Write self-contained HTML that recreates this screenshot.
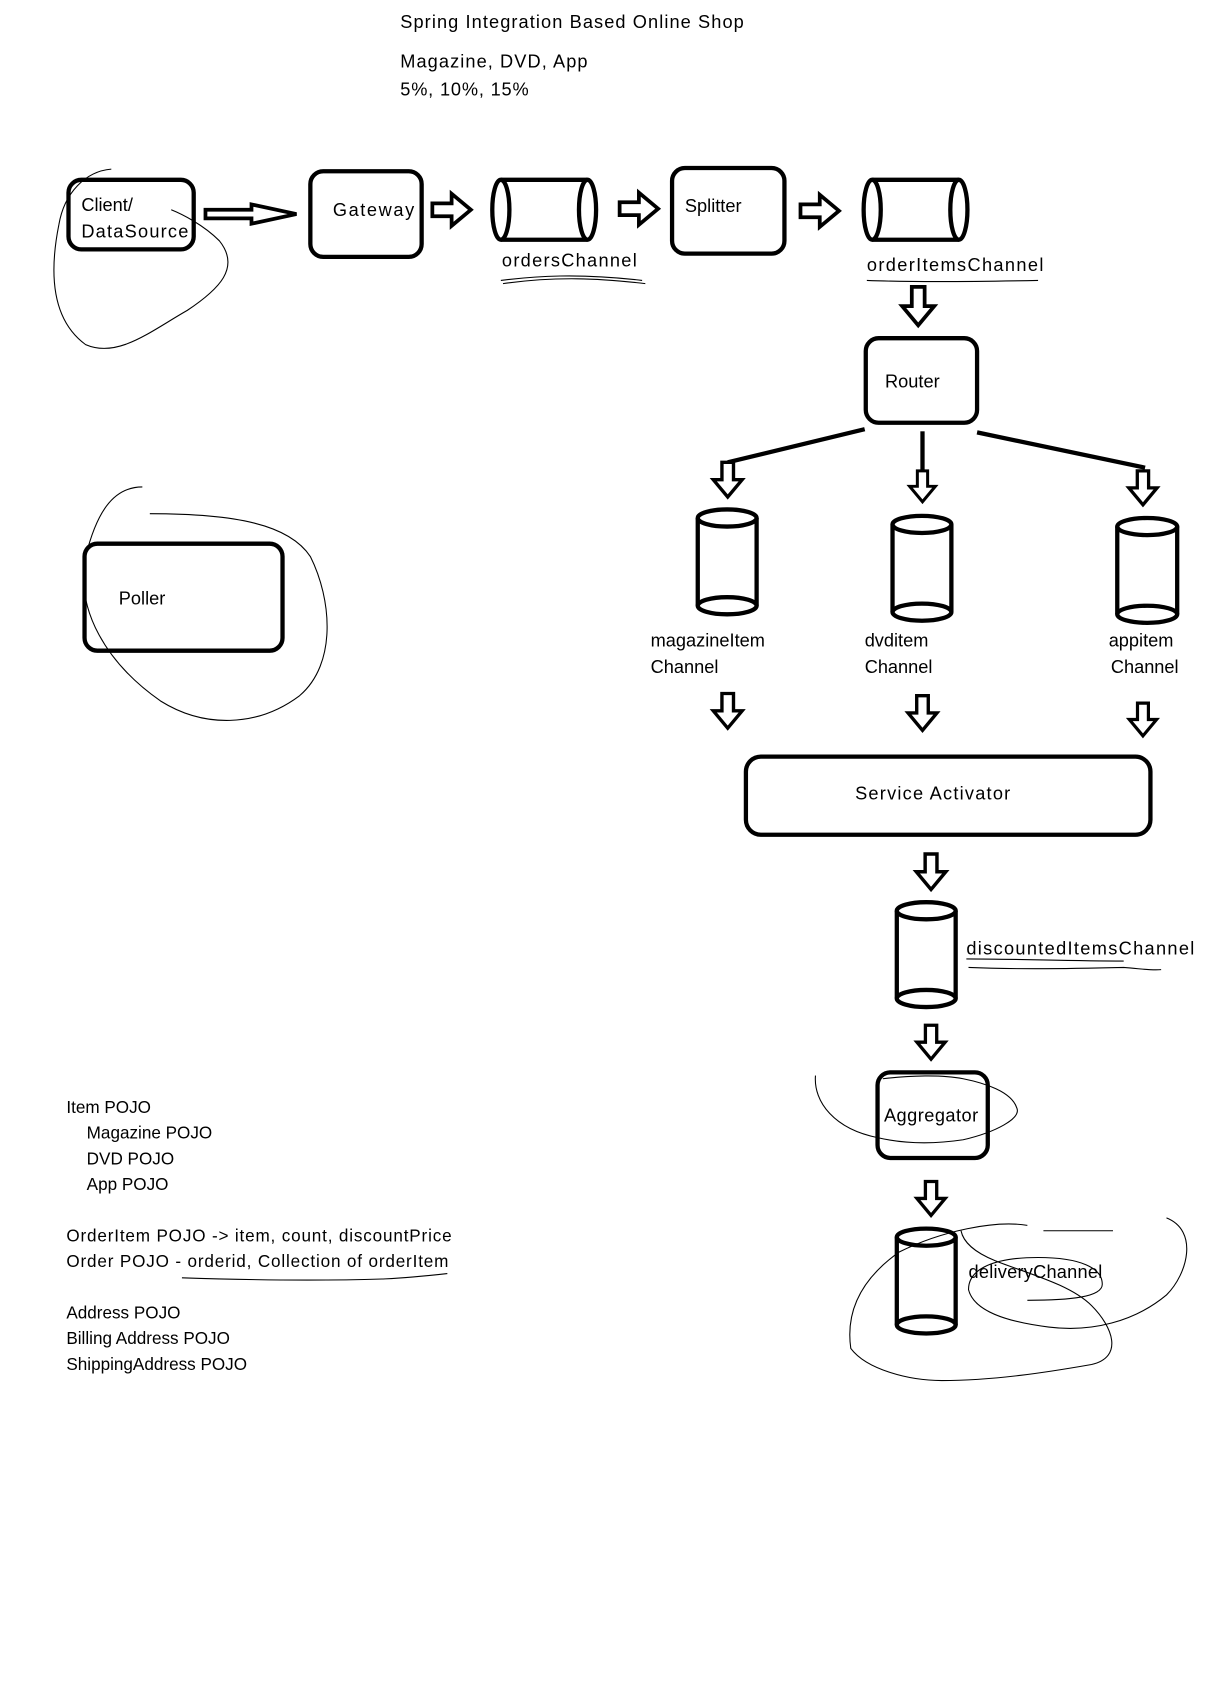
<!DOCTYPE html>
<html><head><meta charset="utf-8"><style>html,body{margin:0;padding:0;background:#fff}svg{display:block}</style></head>
<body>
<svg width="1220" height="1692" viewBox="0 0 1140 1581" xmlns="http://www.w3.org/2000/svg" font-family="Liberation Sans, sans-serif" font-size="17" fill="#000">
<defs>
<path id="ar" d="M0,-6 L18,-6 L18,-15 L36,0 L18,15 L18,6 L0,6 Z" fill="#fff" stroke="#000" stroke-width="3.5" stroke-linejoin="miter"/>
</defs>
<rect width="1140" height="1581" fill="#fff"/>
<g fill="#000">
<text x="374" y="26" textLength="321">Spring Integration Based Online Shop</text>
<text x="374" y="63" textLength="175">Magazine, DVD, App</text>
<text x="374" y="89" textLength="120">5%, 10%, 15%</text>
</g>
<g fill="#fff" stroke="#000" stroke-width="4">
<rect x="64" y="168" width="117" height="65" rx="12"/>
<rect x="290" y="160" width="104" height="80" rx="12"/>
<rect x="628" y="157" width="105" height="80" rx="12"/>
<rect x="809" y="316" width="104" height="79" rx="12"/>
<rect x="79" y="508" width="185" height="100" rx="12"/>
<rect x="697" y="707" width="378" height="73" rx="14"/>
<rect x="820" y="1002" width="103" height="80" rx="12"/>
</g>
<path d="M192,196 L235,196 L235,191 L277,200 L235,209 L235,204 L192,204 Z" fill="#fff" stroke="#000" stroke-width="3.5"/>
<use href="#ar" x="404" y="196"/>
<use href="#ar" x="579" y="195"/>
<use href="#ar" x="748" y="197"/>
<g fill="none" stroke="#000" stroke-width="4">
<path d="M468,168 L549,168 M468,224 L549,224"/>
<ellipse cx="468" cy="196" rx="8" ry="28"/><ellipse cx="549" cy="196" rx="8" ry="28"/>
<path d="M815,168 L896,168 M815,224 L896,224"/>
<ellipse cx="815" cy="196" rx="8" ry="28"/><ellipse cx="896" cy="196" rx="8" ry="28"/>
</g>
<g fill="none" stroke="#000" stroke-width="4">
<g transform="translate(652,476)"><path d="M0,8 L0,90 M55,8 L55,90"/><ellipse cx="27.5" cy="8" rx="27.5" ry="8"/><ellipse cx="27.5" cy="90" rx="27.5" ry="8"/></g>
<g transform="translate(834,482)"><path d="M0,8 L0,90 M55,8 L55,90"/><ellipse cx="27.5" cy="8" rx="27.5" ry="8"/><ellipse cx="27.5" cy="90" rx="27.5" ry="8"/></g>
<g transform="translate(1044,484)"><path d="M0,8 L0,90 M56,8 L56,90"/><ellipse cx="28" cy="8" rx="28" ry="8"/><ellipse cx="28" cy="90" rx="28" ry="8"/></g>
<g transform="translate(838,843)"><path d="M0,8 L0,90 M55,8 L55,90"/><ellipse cx="27.5" cy="8" rx="27.5" ry="8"/><ellipse cx="27.5" cy="90" rx="27.5" ry="8"/></g>
<g transform="translate(838,1148)"><path d="M0,8 L0,90 M55,8 L55,90"/><ellipse cx="27.5" cy="8" rx="27.5" ry="8"/><ellipse cx="27.5" cy="90" rx="27.5" ry="8"/></g>
</g>
<g stroke="#000" stroke-width="4">
<line x1="808" y1="401" x2="680" y2="432"/>
<line x1="862" y1="403" x2="862" y2="440"/>
<line x1="913" y1="404" x2="1070" y2="437"/>
</g>
<use href="#ar" transform="translate(858,268) rotate(90)"/>
<use href="#ar" transform="translate(680,432) rotate(90) scale(0.9)"/>
<use href="#ar" transform="translate(862,440) rotate(90) scale(0.8)"/>
<use href="#ar" transform="translate(1068,440) rotate(90) scale(0.88)"/>
<use href="#ar" transform="translate(680,648) rotate(90) scale(0.9)"/>
<use href="#ar" transform="translate(862,650) rotate(90) scale(0.9)"/>
<use href="#ar" transform="translate(1068,657) rotate(90) scale(0.85)"/>
<use href="#ar" transform="translate(870,798) rotate(90) scale(0.92)"/>
<use href="#ar" transform="translate(870,958) rotate(90) scale(0.88)"/>
<use href="#ar" transform="translate(870,1104) rotate(90) scale(0.88)"/>
<g>
<text x="76" y="197">Client/</text>
<text x="76" y="222" textLength="100">DataSource</text>
<text x="311" y="202" textLength="76">Gateway</text>
<text x="640" y="198">Splitter</text>
<text x="827" y="362">Router</text>
<text x="111" y="565">Poller</text>
<text x="469" y="249" textLength="126">ordersChannel</text>
<text x="810" y="253" textLength="165">orderItemsChannel</text>
<text x="608" y="604">magazineItem</text>
<text x="608" y="629">Channel</text>
<text x="808" y="604">dvditem</text>
<text x="808" y="629">Channel</text>
<text x="1036" y="604">appitem</text>
<text x="1038" y="629">Channel</text>
<text x="799" y="747" textLength="145">Service Activator</text>
<text x="903" y="892" textLength="213">discountedItemsChannel</text>
<text x="826" y="1048" textLength="88">Aggregator</text>
<text x="905" y="1194" textLength="125">deliveryChannel</text>
</g>
<g font-size="16">
<text x="62" y="1040">Item POJO</text>
<text x="81" y="1064">Magazine POJO</text>
<text x="81" y="1088">DVD POJO</text>
<text x="81" y="1112">App POJO</text>
<text x="62" y="1160" textLength="360">OrderItem POJO -&gt; item, count, discountPrice</text>
<text x="62" y="1184" textLength="357">Order POJO - orderid, Collection of orderItem</text>
<text x="62" y="1232">Address POJO</text>
<text x="62" y="1256">Billing Address POJO</text>
<text x="62" y="1280">ShippingAddress POJO</text>
</g>
<g fill="none" stroke="#000" stroke-width="1">
<path d="M104,158 C80,160 60,180 55,210 C45,260 50,300 80,322 C110,335 140,310 175,290 C205,270 225,250 205,225 C190,210 170,200 160,196"/>
<path d="M133,455 C105,455 90,480 80,520 C70,570 100,620 150,655 C190,680 240,680 280,650 C315,620 310,560 290,520 C270,490 220,480 140,480"/>
<path d="M468,262 C500,258 540,255 600,262 M470,265 C520,258 560,260 603,265"/>
<path d="M810,262 C860,264 920,263 970,262"/>
<path d="M170,1194 C230,1196 300,1197 360,1195 C380,1194 400,1192 418,1190"/>
<path d="M905,904 C950,906 1010,905 1050,904 C1065,905 1075,907 1085,906 M903,896 C950,896 1000,898 1050,898"/>
<path d="M762,1005 C760,1030 780,1055 820,1063 C850,1070 880,1068 900,1065 C930,1058 955,1045 950,1035 C945,1020 920,1012 900,1008 C880,1004 850,1005 825,1008"/>
<path d="M960,1145 C930,1140 880,1150 840,1170 C805,1195 790,1225 795,1260 C810,1280 850,1290 880,1290 C930,1290 980,1282 1020,1275 C1050,1268 1040,1240 1020,1220 C1000,1200 960,1190 930,1178 C910,1170 900,1160 898,1150 M975,1150 C1000,1150 1030,1150 1040,1150 M1090,1138 C1120,1150 1110,1190 1090,1210 C1060,1235 1020,1245 980,1240 C940,1235 910,1225 905,1205 C905,1185 930,1175 970,1175 C1010,1175 1030,1185 1030,1200 C1030,1212 1000,1215 960,1215"/>
</g>
</svg>
</body></html>
